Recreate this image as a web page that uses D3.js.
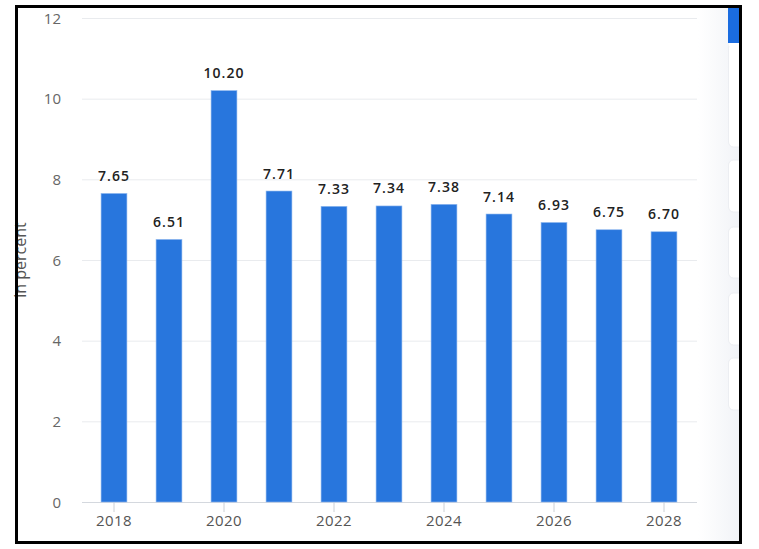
<!DOCTYPE html>
<html>
<head>
<meta charset="utf-8">
<script src="https://cdn.jsdelivr.net/npm/d3@7"></script>
<style>
  body { margin: 0; background: #fff; }
  svg { display: block; font-family: "Open Sans", sans-serif; }
</style>
</head>
<body>
<div id="viz"></div>
<script>
const years = ['2018', '2019', '2020', '2021', '2022', '2023', '2024', '2025', '2026', '2027', '2028'];
const values = [7.65, 6.51, 10.20, 7.71, 7.33, 7.34, 7.38, 7.14, 6.93, 6.75, 6.70];
const yTicks = [0, 2, 4, 6, 8, 10, 12];
const xTickYears = ['2018', '2020', '2022', '2024', '2026', '2028'];

const W = 759, H = 549;

const svg = d3.select('#viz')
  .append('svg')
  .attr('width', W)
  .attr('height', H);

const x = d3.scaleBand()
  .domain(years)
  .range([86.5, 691.5])
  .paddingInner(0.53)
  .paddingOuter(0.265);

const y = d3.scaleLinear()
  .domain([0, 12])
  .range([502, 18]);

// right side panel (page ui)
const defs = svg.append('defs');
const grad = defs.append('linearGradient').attr('id', 'shade');
grad.append('stop').attr('offset', '0%').attr('stop-color', '#ffffff');
grad.append('stop').attr('offset', '100%').attr('stop-color', '#f1f3f7');
svg.append('rect')
  .attr('x', 698).attr('y', 7)
  .attr('width', 42).attr('height', 534)
  .attr('fill', 'url(#shade)');

defs.append('clipPath').attr('id', 'panel')
  .append('rect').attr('x', 0).attr('y', 0).attr('width', 741).attr('height', H);

const panel = svg.append('g').attr('clip-path', 'url(#panel)');

const cards = [[43, 147], [160, 212], [227, 278], [293, 345], [358, 410]];
panel.selectAll('.card')
  .data(cards)
  .join('rect')
  .attr('class', 'card')
  .attr('x', 728.5)
  .attr('y', d => d[0])
  .attr('width', 20)
  .attr('height', d => d[1] - d[0])
  .attr('rx', 5)
  .attr('fill', '#ffffff')
  .attr('stroke', '#eceef2')
  .attr('stroke-width', 1);
panel.append('rect')
  .attr('x', 729).attr('y', 38)
  .attr('width', 20).attr('height', 8)
  .attr('fill', '#fff');
panel.append('rect')
  .attr('x', 728).attr('y', 7)
  .attr('width', 14).attr('height', 36)
  .attr('fill', '#1a6ce0');

// GRID
svg.append('g')
  .selectAll('line')
  .data(yTicks)
  .join('line')
  .attr('x1', 82)
  .attr('x2', 697)
  .attr('y1', d => y(d) + 0.5)
  .attr('y2', d => y(d) + 0.5)
  .attr('stroke', d => d === 0 ? '#d4d8de' : '#e9ebee')
  .attr('stroke-width', 1);

// Y LABELS
svg.append('g')
  .selectAll('text')
  .data(yTicks)
  .join('text')
  .attr('x', 61)
  .attr('y', d => y(d) + 5.5)
  .attr('text-anchor', 'end')
  .attr('font-size', '15px')
  .attr('fill', '#666')
  .text(d => d);

svg.append('text')
  .attr('transform', 'translate(26,260) rotate(-90)')
  .attr('text-anchor', 'middle')
  .attr('font-size', '16px')
  .attr('fill', '#555')
  .text('in percent');

// X AXIS
const xAxis = svg.append('g')
  .attr('transform', 'translate(0,502)')
  .call(d3.axisBottom(x).tickValues(xTickYears).tickSize(10).tickPadding(3));
xAxis.select('.domain').remove();
xAxis.selectAll('.tick line').attr('stroke', '#ccd0d6');
xAxis.selectAll('.tick text')
  .attr('font-family', '"Open Sans", sans-serif')
  .attr('font-size', '15px')
  .attr('letter-spacing', '0.4px')
  .attr('fill', '#555');

// BARS
svg.append('g')
  .selectAll('rect')
  .data(values)
  .join('rect')
  .attr('x', (d, i) => x(years[i]))
  .attr('y', d => y(d))
  .attr('width', x.bandwidth())
  .attr('height', d => y(0) - y(d))
  .attr('fill', '#2876dd')
  .attr('stroke', '#8fb8ee')
  .attr('stroke-width', 0.6);

// VALUE LABELS
svg.append('g')
  .selectAll('text')
  .data(values)
  .join('text')
  .attr('x', (d, i) => x(years[i]) + x.bandwidth() / 2)
  .attr('y', d => y(d) - 12.5)
  .attr('text-anchor', 'middle')
  .attr('font-size', '14px')
  .attr('font-weight', '600')
  .attr('letter-spacing', '1px')
  .attr('fill', '#222')
  .text(d => d.toFixed(2));

// FRAME
svg.append('rect')
  .attr('x', 16.5)
  .attr('y', 6.5)
  .attr('width', 724)
  .attr('height', 536)
  .attr('fill', 'none')
  .attr('stroke', '#000')
  .attr('stroke-width', 3);
</script>
</body>
</html>
